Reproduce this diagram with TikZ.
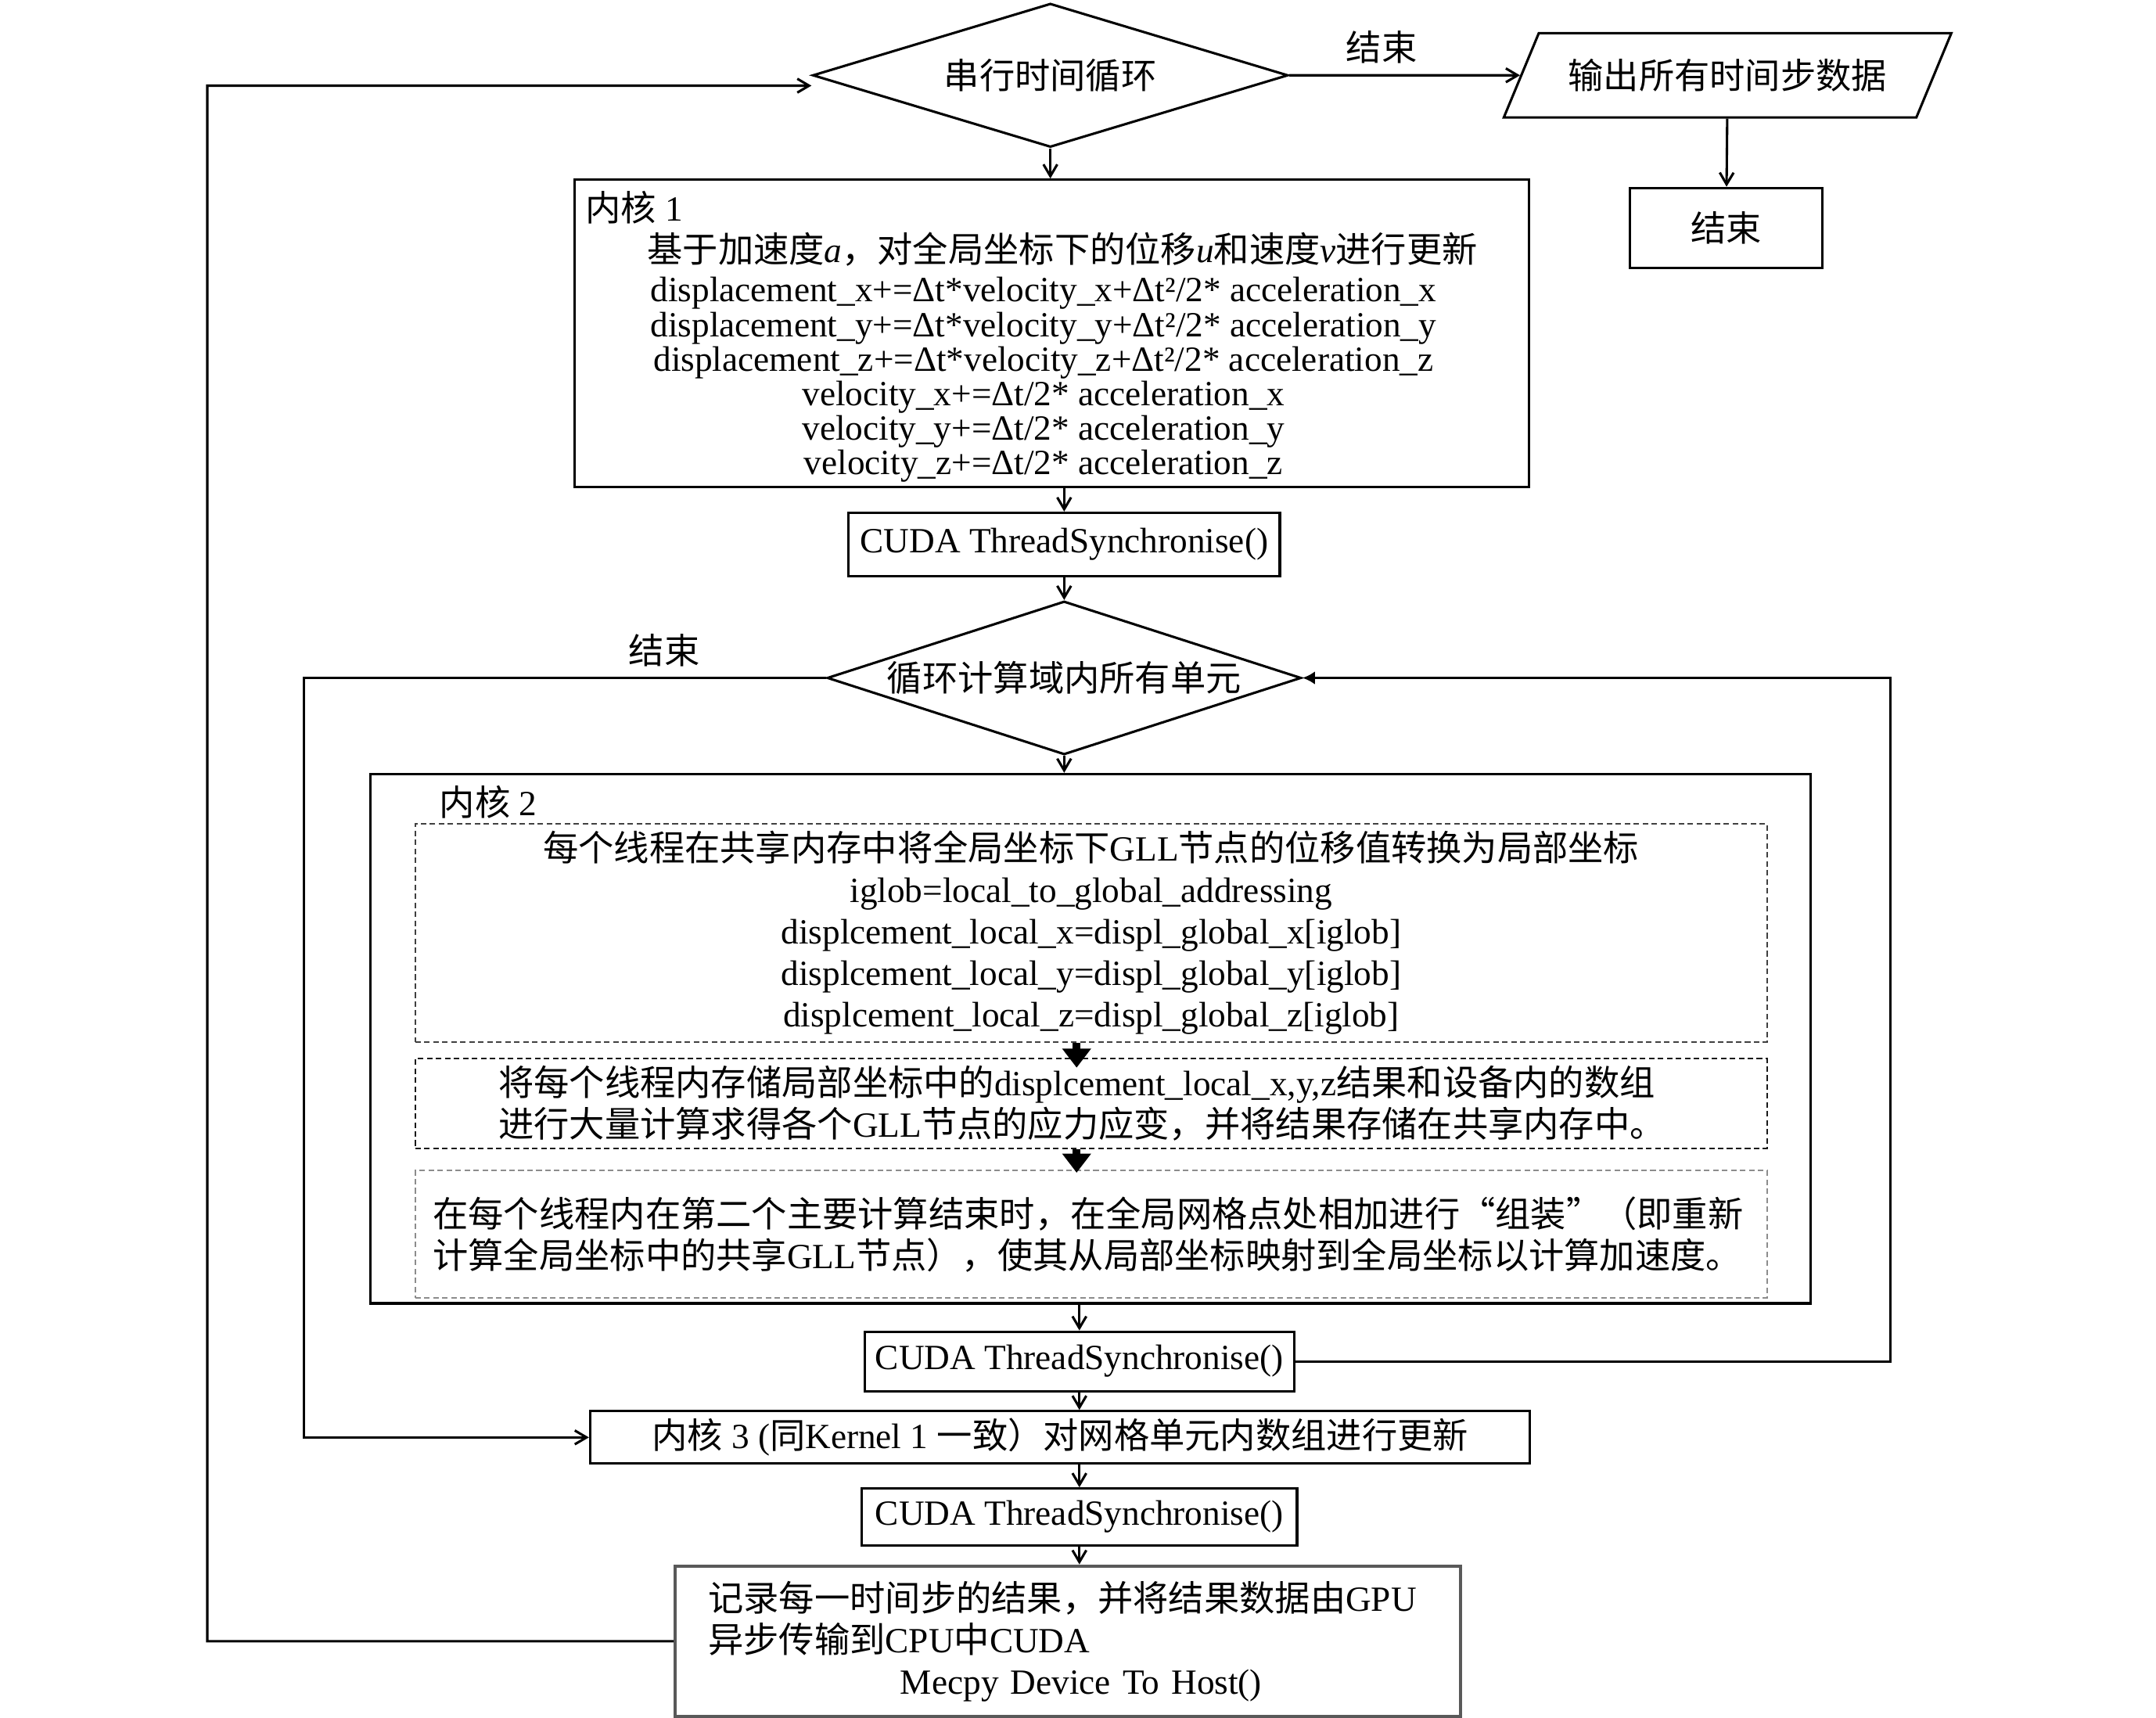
\documentclass[tikz,border=0pt]{standalone}
\usepackage{fontspec}
\setmainfont{Liberation Serif}
\newfontfamily\zhfont{Noto Sans CJK SC}
\newcommand{\zh}[1]{{\zhfont #1}}
\usetikzlibrary{arrows.meta, shapes.geometric}

\begin{document}
\begin{tikzpicture}
[x=0.4pt, y=-0.4pt,
> = {Straight Barb[length=3.4pt, width=4pt]},
line width=0.7pt,
font=\fontsize{10.25pt}{12pt}\selectfont,
block/.style ={rectangle, draw=black, inner sep=0pt, align=center},
cond/.style ={diamond, draw=black, inner sep=0pt, shape aspect=3.3},
dbox/.style ={rectangle, draw, line width=0.4pt,
dash pattern=on 1.6pt off 1pt, inner sep=0pt},
bigarrow/.style ={line width=2.2pt, -{Triangle[length=5.5pt, width=8pt]}},
]
\useasboundingbox (0,0) rectangle (1560,1243);

% row 1
\node [cond, minimum width=137.6pt, minimum height=41.6pt] (tl) at (760,54.5) {\zh{串行时间循环}};
\node [trapezium, draw, trapezium left angle=48, trapezium right angle=132,
 trapezium stretches=true, minimum width=129.6pt, minimum height=24.4pt,
 inner sep=0pt] (out) at (1250,54.5) {\zh{输出所有时间步数据}};
\node [block, minimum width=55.6pt, minimum height=23.2pt] (fin) at (1249,165) {\zh{结束}};

% kernel 1
\node [block, minimum width=276.4pt, minimum height=89pt] (k1) at (761,241.3) {};
\node [anchor=west, inner sep=0pt] (k1t) at ([xshift=3.2pt, yshift=-8.4pt]k1.north west) {\zh{内核} 1};
\node [inner sep=0pt, align=center, font=\fontsize{10.25pt}{10pt}\selectfont] (k1b) at ([xshift=-2.4pt, yshift=-6.9pt]k1.center)
{\hspace*{11pt}\zh{基于加速度}\textit{a}\zh{，对全局坐标下的位移}\textit{u}\zh{和速度}\textit{v}\zh{进行更新}\\[1.4pt]
displacement\_x+=Δt*velocity\_x+Δt²/2* acceleration\_x\\
displacement\_y+=Δt*velocity\_y+Δt²/2* acceleration\_y\\
displacement\_z+=Δt*velocity\_z+Δt²/2* acceleration\_z\\
velocity\_x+=Δt/2* acceleration\_x\\
velocity\_y+=Δt/2* acceleration\_y\\
velocity\_z+=Δt/2* acceleration\_z};

\node [block, minimum width=124.8pt, minimum height=18.4pt] (s1) at (770,394) {CUDA ThreadSynchronise()};

% element loop
\node [cond, minimum width=137.2pt, minimum height=44.4pt] (el) at (770,490.5) {\zh{循环计算域内所有单元}};

% kernel 2
\node [block, minimum width=416.8pt, minimum height=153.2pt] (k2) at (789,751.5) {};
\node [anchor=west, inner sep=0pt] (k2t) at ([xshift=20pt, yshift=-8.4pt]k2.north west) {\zh{内核} 2};
\node [dbox, draw=black!75, minimum width=391.2pt, minimum height=63.2pt, align=center] (ga) at (789.5,675)
{\zh{每个线程在共享内存中将全局坐标下}GLL\zh{节点的位移值转换为局部坐标}\\
iglob=local\_to\_global\_addressing\\
displcement\_local\_x=displ\_global\_x[iglob]\\
displcement\_local\_y=displ\_global\_y[iglob]\\
displcement\_local\_z=displ\_global\_z[iglob]};
\node [dbox, draw=black!90, minimum width=391.2pt, minimum height=26pt, text width=343pt, align=left] (gb) at (789.5,798.5)
{\zh{将每个线程内存储局部坐标中的}displcement\_local\_x,y,z\zh{结果和设备内的数组}\\
\zh{进行大量计算求得各个}GLL\zh{节点的应力应变，并将结果存储在共享内存中。}};
\node [dbox, draw=black!45, minimum width=391.2pt, minimum height=36.8pt, text width=381pt, align=left] (gc) at (789.5,893)
{\zh{在每个线程内在第二个主要计算结束时，在全局网格点处相加进行“组装”（即重新}\\
\zh{计算全局坐标中的共享}GLL\zh{节点），使其从局部坐标映射到全局坐标以计算加速度。}};

% bottom rows
\node [block, minimum width=124.4pt, minimum height=17.2pt] (s2) at (781,985) {CUDA ThreadSynchronise()};
\node [block, minimum width=272pt, minimum height=15.2pt] (k3) at (767,1040)
{\zh{内核} 3 (\zh{同}Kernel 1 \zh{一致）对网格单元内数组进行更新}};
\node [block, minimum width=126pt, minimum height=16.4pt] (s3) at (781,1097.5) {CUDA ThreadSynchronise()};
\node [block, draw=black!65, line width=0.9pt, minimum width=227.2pt, minimum height=43.6pt,
 text width=208pt, align=left] (rec) at (772.5,1187.5)
{\zh{记录每一时间步的结果，并将结果数据由}GPU\\
\zh{异步传输到}CPU\zh{中}CUDA\\
\hspace*{55.6pt}Mecpy Device To Host()};

 \draw[->] (tl) -- (out) node [pos=0.4, above, inner sep=3pt] (lb1) {\zh{结束}};
 \draw[->] (out) -- (fin);
 \draw[->] (tl) -- (tl |- k1.north);
 \draw[->] (k1.south -| s1) -- (s1);
 \draw[->] (s1) -- (el);
 \draw[->] (el) -- (el |- k2.north);
 \draw[bigarrow] ([xshift=-4.2pt]ga.south) -- ([xshift=-4.2pt, yshift=-2.8pt]gb.north);
 \draw[bigarrow] ([xshift=-4.2pt]gb.south) -- ([xshift=-4.2pt, yshift=-0.8pt]gc.north);
 \draw[->] (s2 |- k2.south) -- (s2);
 \draw[->] (s2) -- (s2 |- k3.north);
 \draw[->] (k3.south -| s3) -- (s3);
 \draw[->] (s3) -- (s3 |- rec.north);

% loops
\coordinate (rl) at (1368,490.5);
\coordinate (ll) at (220,490.5);
\coordinate (ol) at (150,62);
 \draw[-{Latex[length=3.6pt, width=3.8pt]}] (s2.east) -| (rl) -- (el.east);
 \draw[->] (el.west) -- (ll) node [pos=0.31, above, inner sep=3pt] (lb2) {\zh{结束}} |- (k3.west);
 \draw[->] (rec.west) -| (ol) -- ([yshift=-3pt]tl.west);
\end{tikzpicture}
\end{document}
